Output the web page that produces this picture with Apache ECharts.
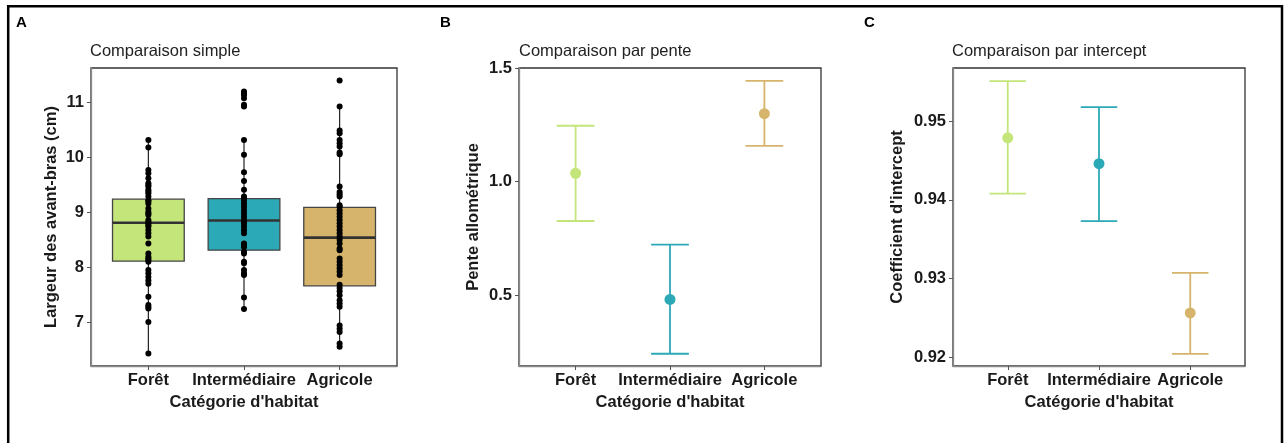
<!DOCTYPE html>
<html><head><meta charset="utf-8">
<script src="https://cdn.jsdelivr.net/npm/echarts@6/dist/echarts.min.js"></script>
<style>html,body{margin:0;padding:0;background:#fff}#c{width:1285px;height:443px}</style>
</head><body><div id="c"></div>
<script>
// ---------- DATA ----------
const categories = ['Forêt', 'Intermédiaire', 'Agricole'];

// Panel A: individual measurements (cm)
const pointsForet = [10.32, 10.18, 9.77, 9.71, 9.62, 9.53, 9.50, 9.47, 9.41, 9.38, 9.35, 9.29, 9.22, 9.20, 9.16,
  9.07, 9.01, 8.98, 8.95, 8.86, 8.83, 8.80, 8.77, 8.74, 8.68, 8.62, 8.56, 8.43, 8.25, 8.19, 8.16, 8.13, 8.10,
  7.95, 7.89, 7.82, 7.76, 7.70, 7.46, 7.31, 7.28, 7.25, 7.00, 6.43];
const pointsInter = [11.20, 11.17, 11.14, 11.08, 10.96, 10.93, 10.32, 10.05, 9.73, 9.57, 9.41, 9.29, 9.25, 9.22,
  9.16, 9.10, 9.04, 8.98, 8.92, 8.86, 8.83, 8.80, 8.74, 8.68, 8.62, 8.43, 8.40, 8.37, 8.28, 8.25, 8.10, 8.07,
  7.95, 7.89, 7.86, 7.45, 7.24];
const pointsAgri = [11.40, 10.93, 10.49, 10.44, 10.32, 10.26, 10.20, 10.09, 10.06, 9.47, 9.37, 9.33, 9.29, 9.13,
  9.10, 9.04, 8.98, 8.92, 8.86, 8.80, 8.74, 8.68, 8.62, 8.56, 8.50, 8.43, 8.34, 8.31, 8.16, 8.10, 8.04, 7.98,
  7.92, 7.86, 7.68, 7.62, 7.56, 7.49, 7.40, 7.34, 7.28, 6.94, 6.88, 6.82, 6.61, 6.55];

// Panel A: box statistics [lower whisker, Q1, median, Q3, upper whisker]
const boxForet = [6.43, 8.11, 8.81, 9.24, 10.33];
const boxInter = [7.24, 8.31, 8.85, 9.25, 10.33];
const boxAgri = [6.55, 7.66, 8.54, 9.09, 10.93];

// Panel B: allometric slope (estimate, CI low, CI high)
const penteEst = [1.037, 0.482, 1.299];
const penteLow = [0.827, 0.243, 1.157];
const penteHigh = [1.246, 0.723, 1.443];

// Panel C: intercept coefficient
const interceptEst = [0.9479, 0.9446, 0.9256];
const interceptLow = [0.9408, 0.9373, 0.9204];
const interceptHigh = [0.9551, 0.9518, 0.9307];

// Tick labels
const ticksA = [7, 8, 9, 10, 11];
const ticksB = [0.5, 1.0, 1.5];
const ticksC = [0.92, 0.93, 0.94, 0.95];
const ticksX = [1, 2, 3];

// ---------- STYLE ----------
const palette = ['#C4E57A', '#2CA9B6', '#D6B46C'];
const FONT = '"Liberation Sans", Arial, Helvetica, sans-serif';
const TXT = '#1a1a1a';

const chart = echarts.init(document.getElementById('c'), null, {renderer: 'canvas'});

const grids = [
  {left: 91, top: 68, width: 306, height: 298},
  {left: 519, top: 68, width: 302, height: 298},
  {left: 953, top: 68, width: 292, height: 298}
].map(g => Object.assign({show: true, borderColor: '#333', borderWidth: 1.3, backgroundColor: 'transparent', containLabel: false, outerBoundsMode: 'none'}, g));

function xAxis(i) {
  return {
    type: 'value', gridIndex: i, min: 0.4, max: 3.6,
    name: "Catégorie d'habitat", nameLocation: 'middle', nameGap: 27,
    nameTextStyle: {fontFamily: FONT, fontWeight: 'bold', fontSize: 16.5, color: TXT},
    axisLine: {show: true, lineStyle: {color: '#8a8a8a', width: 1.3}},
    axisTick: {show: true, customValues: ticksX, length: 4, lineStyle: {color: '#555'}},
    axisLabel: {show: true, customValues: ticksX, margin: 6, fontFamily: FONT, fontWeight: 'bold', fontSize: 16.5, color: TXT,
      formatter: v => categories[Math.round(v) - 1] || ''},
    splitLine: {show: false}
  };
}
function yAxis(i, name, min, max, ticks, gap, fmt) {
  return {
    type: 'value', gridIndex: i, min: min, max: max,
    name: name, nameLocation: 'middle', nameRotate: 90, nameGap: gap,
    nameTextStyle: {fontFamily: FONT, fontWeight: 'bold', fontSize: 16.5, color: TXT},
    axisLine: {show: true, lineStyle: {color: '#8a8a8a', width: 1.3}},
    axisTick: {show: true, customValues: ticks, length: 4, lineStyle: {color: '#555'}},
    axisLabel: {show: true, customValues: ticks, margin: 7, fontFamily: FONT, fontWeight: 'bold', fontSize: 16.5, color: TXT,
      formatter: fmt},
    splitLine: {show: false}
  };
}

const boxData = [boxForet, boxInter, boxAgri].map((b, i) => [i + 1].concat(b));
const pointData = [].concat(
  pointsForet.map(v => [1, v]),
  pointsInter.map(v => [2, v]),
  pointsAgri.map(v => [3, v])
);

function renderBox(params, api) {
  const x = api.value(0);
  const lo = api.coord([x, api.value(1)]);
  const q1 = api.coord([x, api.value(2)]);
  const md = api.coord([x, api.value(3)]);
  const q3 = api.coord([x, api.value(4)]);
  const hi = api.coord([x, api.value(5)]);
  const half = api.size([0.375, 0])[0];
  const col = palette[Math.round(x) - 1];
  return {type: 'group', children: [
    {type: 'line', shape: {x1: lo[0], y1: lo[1], x2: q1[0], y2: q1[1]}, style: {stroke: '#222', lineWidth: 1.2}},
    {type: 'line', shape: {x1: q3[0], y1: q3[1], x2: hi[0], y2: hi[1]}, style: {stroke: '#222', lineWidth: 1.2}},
    {type: 'rect', shape: {x: md[0] - half, y: q3[1], width: 2 * half, height: q1[1] - q3[1]},
      style: {fill: col, stroke: '#444', lineWidth: 1.3}},
    {type: 'line', shape: {x1: md[0] - half, y1: md[1], x2: md[0] + half, y2: md[1]}, style: {stroke: '#333', lineWidth: 2.6}}
  ]};
}

function renderErr(params, api) {
  const x = api.value(0);
  const lo = api.coord([x, api.value(1)]);
  const hi = api.coord([x, api.value(2)]);
  const half = api.size([0.2, 0])[0];
  const col = palette[Math.round(x) - 1];
  const st = {stroke: col, lineWidth: 1.8};
  return {type: 'group', children: [
    {type: 'line', shape: {x1: lo[0], y1: lo[1], x2: hi[0], y2: hi[1]}, style: st},
    {type: 'line', shape: {x1: lo[0] - half, y1: lo[1], x2: lo[0] + half, y2: lo[1]}, style: st},
    {type: 'line', shape: {x1: hi[0] - half, y1: hi[1], x2: hi[0] + half, y2: hi[1]}, style: st}
  ]};
}

const errB = categories.map((c, i) => [i + 1, penteLow[i], penteHigh[i]]);
const errC = categories.map((c, i) => [i + 1, interceptLow[i], interceptHigh[i]]);
const ptB = categories.map((c, i) => ({value: [i + 1, penteEst[i]], itemStyle: {color: palette[i], opacity: 1}}));
const ptC = categories.map((c, i) => ({value: [i + 1, interceptEst[i]], itemStyle: {color: palette[i], opacity: 1}}));

const titleStyle = {fontFamily: FONT, fontWeight: 'normal', fontSize: 16.5, color: '#222'};
const tagStyle = {fontFamily: FONT, fontWeight: 'bold', fontSize: 15, color: '#000'};

const option = {
  animation: false,
  backgroundColor: '#fff',
  title: [
    {text: 'A', left: 16, top: 15, padding: 0, textStyle: tagStyle},
    {text: 'B', left: 440, top: 15, padding: 0, textStyle: tagStyle},
    {text: 'C', left: 864, top: 15, padding: 0, textStyle: tagStyle},
    {text: 'Comparaison simple', left: 90, top: 43, padding: 0, textStyle: titleStyle},
    {text: 'Comparaison par pente', left: 519, top: 43, padding: 0, textStyle: titleStyle},
    {text: 'Comparaison par intercept', left: 952, top: 43, padding: 0, textStyle: titleStyle}
  ],
  grid: grids,
  xAxis: [xAxis(0), xAxis(1), xAxis(2)],
  yAxis: [
    yAxis(0, 'Largeur des avant-bras (cm)', 6.2, 11.63, ticksA, 31, v => String(v)),
    yAxis(1, 'Pente allométrique', 0.189, 1.5, ticksB, 37, v => v.toFixed(1)),
    yAxis(2, "Coefficient d'intercept", 0.91885, 0.95678, ticksC, 47, v => v.toFixed(2))
  ],
  series: [
    {type: 'custom', xAxisIndex: 0, yAxisIndex: 0, renderItem: renderBox, data: boxData, z: 2,
      encode: {x: 0, y: [1, 2, 3, 4, 5]}},
    {type: 'scatter', xAxisIndex: 0, yAxisIndex: 0, data: pointData, symbolSize: 6,
      itemStyle: {color: '#000', opacity: 1}, z: 5},
    {type: 'custom', xAxisIndex: 1, yAxisIndex: 1, renderItem: renderErr, data: errB, z: 2,
      encode: {x: 0, y: [1, 2]}},
    {type: 'scatter', xAxisIndex: 1, yAxisIndex: 1, data: ptB, symbolSize: 11, itemStyle: {opacity: 1}, z: 5},
    {type: 'custom', xAxisIndex: 2, yAxisIndex: 2, renderItem: renderErr, data: errC, z: 2,
      encode: {x: 0, y: [1, 2]}},
    {type: 'scatter', xAxisIndex: 2, yAxisIndex: 2, data: ptC, symbolSize: 11, itemStyle: {opacity: 1}, z: 5}
  ],
  graphic: [
    {type: 'rect', shape: {x: 8.2, y: 6.2, width: 1273.8, height: 460}, style: {fill: 'none', stroke: '#000', lineWidth: 2.5}, z: 100}
  ]
};
chart.setOption(option);
</script>
</body></html>
